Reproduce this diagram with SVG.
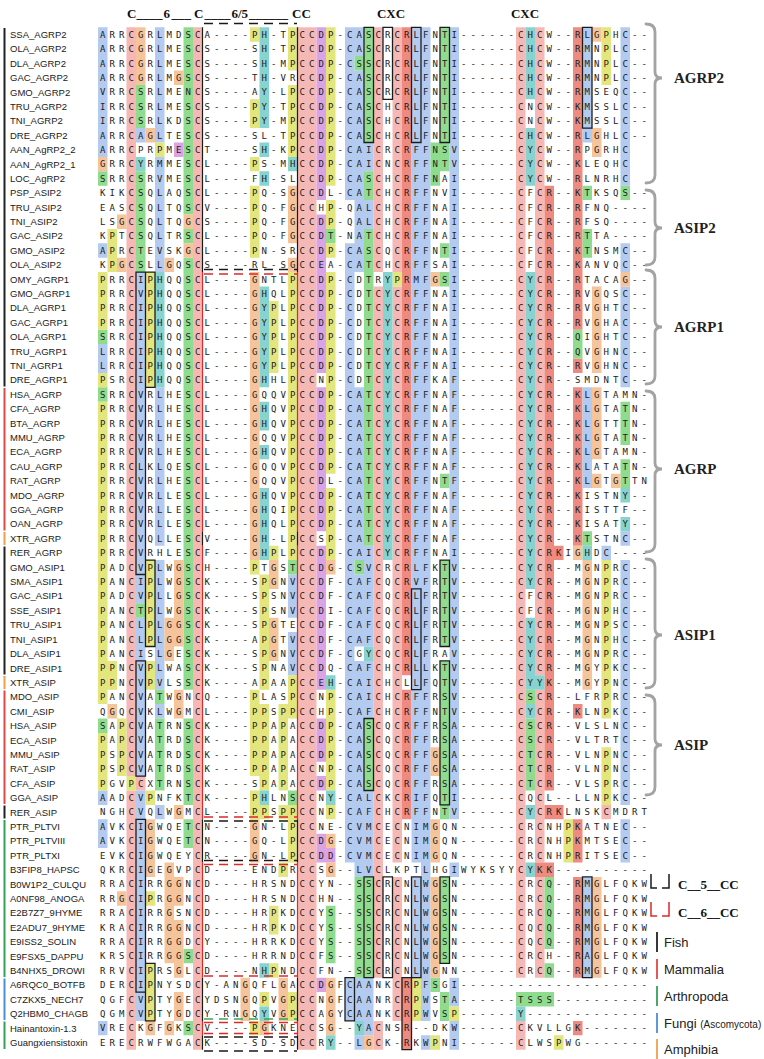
<svg xmlns="http://www.w3.org/2000/svg" width="764" height="1059" viewBox="0 0 764 1059">
<defs><style>
.nm{font-family:"Liberation Sans",Arial,sans-serif;font-size:9.5px;fill:#1a1a1a}
.sq{font-family:"DejaVu Sans Mono",monospace;font-size:9px;letter-spacing:4.08px;fill:#222}
.hd{font-family:"Liberation Serif",serif;font-weight:bold;font-size:13px;fill:#111}
.lb{font-family:"Liberation Serif",serif;font-weight:bold;font-size:15px;fill:#222}
.lg{font-family:"Liberation Sans",Arial,sans-serif;font-size:13px;fill:#222}
.br{fill:none;stroke:#a3a3a3;stroke-width:2.8;stroke-linecap:round}
.c{fill:#f5b8b5}.r{fill:#ef8a80}.b{fill:#b3cbf0}.g{fill:#8fdc8f}.p{fill:#dba3e3}.o{fill:#f6c49a}.y{fill:#e2e67c}.t{fill:#86d3cf}
.bx{fill:none;stroke:#1c1c1c;stroke-width:1.3px;vector-effect:non-scaling-stroke}
.vk{fill:none;stroke:#1a1a1a;stroke-width:1.2}
.vr{fill:none;stroke:#e0282a;stroke-width:1.2}
.dk{fill:none;stroke:#1a1a1a;stroke-width:1.6;stroke-dasharray:9 6}
.dr{fill:none;stroke:#e0282a;stroke-width:1.6;stroke-dasharray:9 6}
.dg{fill:none;stroke:#3aa855;stroke-width:1.6;stroke-dasharray:9 6}
</style></defs>
<rect width="764" height="1059" fill="#fff"/>
<g id="cells" transform="translate(98 27.3) scale(9.5 14.4)">
<path class="c" d="M3 0h1v52h-1zM3 53h1v18h-1zM4 52h1v1h-1zM10 0h1v71h-1zM21 0h2v71h-2zM29 0h1v17h-1zM29 18h1v48h-1zM29 69h1v2h-1zM31 0h1v17h-1zM31 18h1v40h-1zM31 59h1v10h-1zM44 0h1v66h-1zM44 69h1v2h-1zM46 0h1v45h-1zM46 46h1v12h-1zM46 59h1v7h-1zM53 54h1v1h-1z"/>
<path class="r" d="M32 0h1v45h-1zM32 46h1v9h-1zM32 66h1v5h-1zM46 58h1v1h-1zM47 11h1v42h-1zM47 54h1v1h-1zM47 58h1v1h-1zM48 36h1v1h-1zM48 54h1v1h-1zM50 0h1v21h-1zM50 23h1v1h-1zM50 25h1v11h-1zM50 47h1v1h-1zM50 55h1v3h-1zM50 59h1v7h-1zM50 69h1v1h-1z"/>
<path class="b" d="M0 0h1v9h-1zM0 15h1v1h-1zM0 22h1v2h-1zM0 53h1v1h-1zM0 55h1v2h-1zM0 69h1v1h-1zM4 7h1v1h-1zM4 17h1v23h-1zM4 41h1v11h-1zM4 53h1v16h-1zM6 0h1v8h-1zM6 9h1v8h-1zM6 25h1v11h-1zM6 37h1v9h-1zM6 47h1v1h-1zM6 54h1v1h-1zM20 38h1v3h-1zM20 42h1v3h-1zM26 0h1v12h-1zM26 15h1v43h-1zM26 66h1v3h-1zM27 0h1v2h-1zM27 3h1v14h-1zM27 25h1v12h-1zM27 38h1v5h-1zM27 44h1v15h-1zM27 66h1v3h-1zM27 70h1v1h-1zM28 8h1v2h-1zM28 12h1v2h-1zM28 36h1v7h-1zM28 44h1v4h-1zM28 53h1v6h-1zM28 66h1v4h-1zM33 0h1v58h-1zM33 59h1v7h-1zM34 0h1v69h-1zM34 70h1v1h-1zM37 0h1v55h-1zM37 58h1v1h-1zM37 66h1v2h-1zM37 69h1v2h-1zM51 0h1v8h-1zM51 25h1v7h-1zM51 59h1v7h-1zM53 36h1v1h-1zM55 0h1v11h-1zM55 15h1v2h-1zM55 18h1v7h-1zM55 35h1v1h-1zM55 37h1v17h-1zM55 55h1v3h-1z"/>
<path class="g" d="M0 10h1v1h-1zM0 21h1v1h-1zM0 25h1v1h-1zM0 48h1v1h-1zM4 4h1v3h-1zM4 10h1v7h-1zM4 40h1v1h-1zM6 46h1v1h-1zM6 48h1v5h-1zM9 0h1v13h-1zM9 14h1v1h-1zM9 16h1v30h-1zM9 48h1v6h-1zM9 55h1v2h-1zM9 64h1v1h-1zM9 69h1v1h-1zM20 37h1v1h-1zM20 53h1v1h-1zM24 14h1v1h-1zM24 61h1v4h-1zM27 2h1v1h-1zM27 37h1v1h-1zM27 59h1v7h-1zM28 0h1v8h-1zM28 10h1v2h-1zM28 14h1v22h-1zM28 48h1v5h-1zM28 59h1v7h-1zM35 8h1v3h-1zM35 66h1v1h-1zM36 0h1v10h-1zM36 15h1v1h-1zM36 17h1v1h-1zM36 31h1v1h-1zM36 37h1v6h-1zM36 44h1v11h-1zM36 59h1v6h-1zM36 67h1v2h-1zM44 67h4v1h-4zM45 46h1v1h-1zM45 48h1v5h-1zM47 59h1v5h-1zM47 65h1v1h-1zM50 21h1v2h-1zM51 11h1v1h-1zM51 14h1v2h-1zM51 35h1v1h-1zM55 11h1v1h-1zM55 26h1v3h-1zM55 30h1v2h-1z"/>
<path class="p" d="M8 8h1v1h-1zM23 0h1v12h-1zM23 13h1v11h-1zM23 25h1v10h-1zM23 36h1v10h-1zM23 48h1v3h-1zM23 52h1v1h-1zM23 56h1v2h-1zM23 66h1v1h-1zM24 57h1v1h-1z"/>
<path class="o" d="M0 9h1v1h-1zM1 47h1v1h-1zM2 13h1v1h-1zM2 16h1v1h-1zM2 60h1v1h-1zM4 0h1v4h-1zM5 7h1v1h-1zM5 55h1v4h-1zM5 69h1v1h-1zM7 16h1v1h-1zM7 41h1v3h-1zM7 58h1v7h-1zM7 69h1v1h-1zM8 3h1v1h-1zM8 37h1v6h-1zM8 46h1v2h-1zM8 54h1v1h-1zM8 59h1v2h-1zM8 62h1v4h-1zM8 67h1v2h-1zM9 13h1v1h-1zM9 15h1v1h-1zM15 66h1v3h-1zM16 17h1v20h-1zM16 55h1v3h-1zM17 69h1v1h-1zM18 37h1v2h-1zM18 41h1v3h-1zM19 66h1v3h-1zM20 11h1v4h-1zM20 16h1v1h-1zM24 37h1v1h-1zM24 56h1v1h-1zM24 58h1v1h-1zM24 66h1v4h-1zM28 70h1v1h-1zM35 17h1v1h-1zM35 50h1v2h-1zM35 55h1v3h-1zM35 59h1v7h-1zM50 36h1v1h-1zM51 37h1v9h-1zM52 0h1v1h-1zM52 7h1v2h-1zM52 18h1v6h-1zM52 25h1v5h-1zM52 31h1v1h-1zM52 59h1v7h-1zM54 31h1v1h-1zM55 17h1v1h-1z"/>
<path class="y" d="M0 17h1v4h-1zM0 24h1v1h-1zM0 26h1v21h-1zM0 49h1v4h-1zM1 14h1v3h-1zM1 44h1v2h-1zM2 48h1v4h-1zM3 52h1v1h-1zM5 17h1v8h-1zM5 37h1v6h-1zM5 44h1v2h-1zM5 53h1v1h-1zM5 60h1v1h-1zM5 65h1v4h-1zM6 8h1v1h-1zM16 0h1v1h-1zM16 5h1v2h-1zM16 9h1v1h-1zM16 11h1v5h-1zM16 37h1v1h-1zM16 46h1v6h-1zM16 53h1v2h-1zM16 69h1v1h-1zM17 38h1v8h-1zM17 47h1v6h-1zM17 54h1v1h-1zM17 67h1v1h-1zM18 19h1v5h-1zM18 36h1v1h-1zM18 61h1v2h-1zM18 65h1v1h-1zM19 47h1v6h-1zM19 54h1v1h-1zM19 58h1v1h-1zM20 0h1v3h-1zM20 4h1v5h-1zM20 17h1v20h-1zM20 45h1v3h-1zM20 54h1v4h-1zM20 67h1v2h-1zM24 0h1v11h-1zM24 12h1v2h-1zM24 15h1v1h-1zM24 17h1v14h-1zM24 32h1v5h-1zM24 46h1v7h-1zM24 54h1v1h-1zM31 17h1v1h-1zM33 66h1v3h-1zM35 70h1v1h-1zM37 68h1v1h-1zM48 70h1v1h-1zM49 55h1v3h-1zM53 0h1v4h-1zM53 37h1v11h-1zM53 50h1v4h-1z"/>
<path class="t" d="M4 9h1v1h-1zM6 17h1v8h-1zM17 0h1v7h-1zM17 8h1v1h-1zM17 10h1v1h-1zM17 18h1v7h-1zM17 26h1v2h-1zM17 29h1v1h-1zM17 32h1v5h-1zM17 53h1v1h-1zM17 65h1v1h-1zM17 68h1v1h-1zM20 9h1v1h-1zM24 45h1v1h-1zM24 53h1v1h-1zM24 70h1v1h-1zM27 69h1v1h-1zM28 43h1v1h-1zM30 17h1v20h-1zM44 68h1v1h-1zM45 0h1v5h-1zM45 7h1v4h-1zM45 17h1v22h-1zM45 41h1v5h-1zM45 47h1v1h-1zM45 54h1v1h-1zM45 58h1v1h-1zM46 45h1v1h-1zM51 36h1v1h-1zM55 32h1v1h-1zM55 34h1v1h-1z"/>
<path class="bx" d="M28 0h1v8h-1zM30 0h1v5h-1zM33 0h1v8h-1zM36 0h1v8h-1zM51 0h1v7h-1zM4 17h1v21h-1zM5 17h1v8h-1zM5 37h1v6h-1zM33 39h1v7h-1zM36 37h1v6h-1zM4 44h1v8h-1zM36 44h1v10h-1zM28 48h1v5h-1zM4 55h1v12h-1zM28 59h1v7h-1zM30 59h1v7h-1zM33 59h1v7h-1zM36 59h1v6h-1zM51 59h1v7h-1zM5 65h1v4h-1zM26 66h1v3h-1zM32 66h1v5h-1z"/>
</g>
<g id="brackets">
<path class="vk" d="M202.5 27.3V272.1M297.5 27.3V272.1M202.5 531.3V545.7M297.5 531.3V545.7M202.5 819.3V862.5M297.5 819.3V862.5M202.5 977.7V1020.9M297.5 977.7V1020.9M202.5 1035.3V1049.7M297.5 1035.3V1049.7"/>
<path class="vr" d="M202.5 272.1V531.3M297.5 272.1V531.3M202.5 545.7V819.3M297.5 545.7V819.3M202.5 862.5V977.7M297.5 862.5V977.7M202.5 1020.9V1035.3M297.5 1020.9V1035.3"/>
<path class="dk" d="M204 23.5H297M204 269.5H297M204 821H297M204 860.5H297M204 1037H297M204 1051H297"/>
<path class="dr" d="M204 274H297M204 817H297M204 864.5H297M204 976H297M204 1022.5H297M204 1033.5H297"/>
<path class="dg" d="M204 1019H297"/>
</g>
<g id="taxa" stroke-width="2" fill="none">
<path stroke="#222" d="M4.5 28V386.5M4.5 546.5V674.5M4.5 805.5V818.5"/>
<path stroke="#e04848" d="M4.5 388V530.5M4.5 690.5V804"/>
<path stroke="#f0a04a" d="M4.5 532V545M4.5 676V689"/>
<path stroke="#35a05a" d="M4.5 820V977M4.5 1021.5V1049"/>
<path stroke="#4a90d0" d="M4.5 978.5V1020"/>
</g>
<g id="header">
<text class="hd" y="18"><tspan x="127">C</tspan><tspan x="136.5">____</tspan><tspan x="163.5">6</tspan><tspan x="171.5">___</tspan><tspan x="194">C</tspan><tspan x="204.5">____</tspan><tspan x="231.5">6/5</tspan><tspan x="249">______</tspan><tspan x="292">CC</tspan></text>
<text class="hd" x="391" y="18" text-anchor="middle">CXC</text>
<text class="hd" x="525" y="18" text-anchor="middle">CXC</text>
</g>
<g id="names"><text class="nm" y="37.9">
<tspan x="10" dy="0">SSA_AGRP2</tspan><tspan x="10" dy="14.4">OLA_AGRP2</tspan><tspan x="10" dy="14.4">DLA_AGRP2</tspan><tspan x="10" dy="14.4">GAC_AGRP2</tspan><tspan x="10" dy="14.4">GMO_AGRP2</tspan><tspan x="10" dy="14.4">TRU_AGRP2</tspan><tspan x="10" dy="14.4">TNI_AGRP2</tspan><tspan x="10" dy="14.4">DRE_AGRP2</tspan><tspan x="10" dy="14.4">AAN_AgRP2_2</tspan><tspan x="10" dy="14.4">AAN_AgRP2_1</tspan><tspan x="10" dy="14.4">LOC_AgRP2</tspan><tspan x="10" dy="14.4">PSP_ASIP2</tspan><tspan x="10" dy="14.4">TRU_ASIP2</tspan><tspan x="10" dy="14.4">TNI_ASIP2</tspan><tspan x="10" dy="14.4">GAC_ASIP2</tspan><tspan x="10" dy="14.4">GMO_ASIP2</tspan><tspan x="10" dy="14.4">OLA_ASIP2</tspan><tspan x="10" dy="14.4">OMY_AGRP1</tspan><tspan x="10" dy="14.4">GMO_AGRP1</tspan><tspan x="10" dy="14.4">DLA_AGRP1</tspan><tspan x="10" dy="14.4">GAC_AGRP1</tspan><tspan x="10" dy="14.4">OLA_AGRP1</tspan><tspan x="10" dy="14.4">TRU_AGRP1</tspan><tspan x="10" dy="14.4">TNI_AGRP1</tspan><tspan x="10" dy="14.4">DRE_AGRP1</tspan><tspan x="10" dy="14.4">HSA_AGRP</tspan><tspan x="10" dy="14.4">CFA_AGRP</tspan><tspan x="10" dy="14.4">BTA_AGRP</tspan><tspan x="10" dy="14.4">MMU_AGRP</tspan><tspan x="10" dy="14.4">ECA_AGRP</tspan><tspan x="10" dy="14.4">CAU_AGRP</tspan><tspan x="10" dy="14.4">RAT_AGRP</tspan><tspan x="10" dy="14.4">MDO_AGRP</tspan><tspan x="10" dy="14.4">GGA_AGRP</tspan><tspan x="10" dy="14.4">OAN_AGRP</tspan><tspan x="10" dy="14.4">XTR_AGRP</tspan><tspan x="10" dy="14.4">RER_AGRP</tspan><tspan x="10" dy="14.4">GMO_ASIP1</tspan><tspan x="10" dy="14.4">SMA_ASIP1</tspan><tspan x="10" dy="14.4">GAC_ASIP1</tspan><tspan x="10" dy="14.4">SSE_ASIP1</tspan><tspan x="10" dy="14.4">TRU_ASIP1</tspan><tspan x="10" dy="14.4">TNI_ASIP1</tspan><tspan x="10" dy="14.4">DLA_ASIP1</tspan><tspan x="10" dy="14.4">DRE_ASIP1</tspan><tspan x="10" dy="14.4">XTR_ASIP</tspan><tspan x="10" dy="14.4">MDO_ASIP</tspan><tspan x="10" dy="14.4">CMI_ASIP</tspan><tspan x="10" dy="14.4">HSA_ASIP</tspan><tspan x="10" dy="14.4">ECA_ASIP</tspan><tspan x="10" dy="14.4">MMU_ASIP</tspan><tspan x="10" dy="14.4">RAT_ASIP</tspan><tspan x="10" dy="14.4">CFA_ASIP</tspan><tspan x="10" dy="14.4">GGA_ASIP</tspan><tspan x="10" dy="14.4">RER_ASIP</tspan><tspan x="10" dy="14.4">PTR_PLTVI</tspan><tspan x="10" dy="14.4">PTR_PLTVIII</tspan><tspan x="10" dy="14.4">PTR_PLTXI</tspan><tspan x="10" dy="14.4">B3FIP8_HAPSC</tspan><tspan x="10" dy="14.4">B0W1P2_CULQU</tspan><tspan x="10" dy="14.4">A0NF98_ANOGA</tspan><tspan x="10" dy="14.4">E2B7Z7_9HYME</tspan><tspan x="10" dy="14.4">E2ADU7_9HYME</tspan><tspan x="10" dy="14.4">E9ISS2_SOLIN</tspan><tspan x="10" dy="14.4">E9FSX5_DAPPU</tspan><tspan x="10" dy="14.4">B4NHX5_DROWI</tspan><tspan x="10" dy="14.4">A6RQC0_BOTFB</tspan><tspan x="10" dy="14.4">C7ZKX5_NECH7</tspan><tspan x="10" dy="14.4">Q2HBM0_CHAGB</tspan><tspan x="10" dy="14.4">Hainantoxin-1.3</tspan><tspan x="10" dy="14.4">Guangxiensistoxin</tspan>
</text></g>
<g id="sequences"><text class="sq" y="37.8">
<tspan x="100" dy="0">ARRCGRLMDSCA----PH-TPCCDP-CASCRCRLFNTI------CHCW--RLGPHC--</tspan>
<tspan x="100" dy="14.4">ARRCGRLMESCS----SH-TPCCDP-CASCRCRLFNTI------CHCW--RMNPLC--</tspan>
<tspan x="100" dy="14.4">ARRCGRLMESCS----SH-MPCCDP-CSSCRCRLFNTI------CHCW--RMNPLC--</tspan>
<tspan x="100" dy="14.4">ARRCGRLMGSCS----TH-VRCCDP-CASCRCRLFNTI------CHCW--RMNPLC--</tspan>
<tspan x="100" dy="14.4">VRRCSRLMENCS----AY-LPCCDP-CASCRCRLFNTI------CHCW--RMSEQC--</tspan>
<tspan x="100" dy="14.4">IRRCSRLMESCS----PY-TPCCDP-CASCHCRLFNTI------CNCW--KMSSLC--</tspan>
<tspan x="100" dy="14.4">IRRCSRLKDSCS----PY-MPCCDP-CASCHCRLFNTI------CNCW--KMSSLC--</tspan>
<tspan x="100" dy="14.4">ARRCAGLTESCS----SL-TPCCDP-CASCHCRLFNTI------CHCW--RLGHLC--</tspan>
<tspan x="100" dy="14.4">ARRCPRPMESCT----SH-KPCCDP-CAICRCRFFNSV------CYCW--RPGRHC</tspan>
<tspan x="100" dy="14.4">GRRCYRMMESCL----PS-MHCCDP-CAICNCRFFNTV------CYCW--KLEQHC</tspan>
<tspan x="100" dy="14.4">SRRCSRVMESCL----FH-SLCCDP-CASCHCRFFNAI------CYCW--RLNRHC</tspan>
<tspan x="100" dy="14.4">KIKCSQLAQSCL----PQ-SGCCDL-CATCHCRFFNVI------CFCR--KTKSQS--</tspan>
<tspan x="100" dy="14.4">EASCSQLTQSCV----PQ-FGCCHP-QALCHCRFFNAI------CFCR--RFNQ----</tspan>
<tspan x="100" dy="14.4">LSGCSQLTQGCS----PQ-FGCCDP-QALCHCRFFNAI------CFCR--RFSQ----</tspan>
<tspan x="100" dy="14.4">KPTCSQLTRSCL----PQ-FGCCDT-NATCHCRFFNAI------CFCR--RTTA----</tspan>
<tspan x="100" dy="14.4">APRCTEVSKGCL----PN-SRCCDP-CASCQCRFFNTI------CFCR--KTNSMC--</tspan>
<tspan x="100" dy="14.4">KPGCSLLGQSCS----RL-SGCCEA-CATCHCRFFSAI------CFCR--KANVQC--</tspan>
<tspan x="100" dy="14.4">PRRCIPHQQSCL----GNTLPCCDP-CDTRYPRMFGSI------CYCR--RTACAG--</tspan>
<tspan x="100" dy="14.4">PRRCVPHQQSCL----GHQLPCCDP-CDTCYCRFFNAI------CYCR--RVGQSC--</tspan>
<tspan x="100" dy="14.4">PRRCIPHQQSCL----GYPLPCCDP-CDTCYCRFFNAI------CYCR--RVGHTC--</tspan>
<tspan x="100" dy="14.4">PRRCIPHQQSCL----GYPLPCCDP-CDTCYCRFFNAI------CYCR--RVGHAC--</tspan>
<tspan x="100" dy="14.4">SRRCIPHQQSCL----GYPLPCCDP-CDTCYCRFFNAI------CYCR--QIGHTC--</tspan>
<tspan x="100" dy="14.4">LRRCIPHQQSCL----GYPLPCCDP-CDTCYCRFFNAI------CYCR--QVGHNC--</tspan>
<tspan x="100" dy="14.4">LRRCIPHQQSCL----GYPLPCCDP-CDTCYCRFFNAI------CYCR--RVGHNC--</tspan>
<tspan x="100" dy="14.4">PSRCIPHQQSCL----GHHLPCCNP-CDTCYCRFFKAF------CYCR--SMDNTC--</tspan>
<tspan x="100" dy="14.4">SRRCVRLHESCL----GQQVPCCDP-CATCYCRFFNAF------CYCR--KLGTAMN-</tspan>
<tspan x="100" dy="14.4">PRRCVRLHESCL----GHQVPCCDP-CATCYCRFFNAF------CYCR--KLGTATN-</tspan>
<tspan x="100" dy="14.4">PRRCVRLHESCL----GHQVPCCDP-CATCYCRFFNAF------CYCR--KLGTTTN-</tspan>
<tspan x="100" dy="14.4">PRRCVRLHESCL----GQQVPCCDP-CATCYCRFFNAF------CYCR--KLGTATN-</tspan>
<tspan x="100" dy="14.4">PRRCVRLHESCL----GHQVPCCDP-CATCYCRFFNAF------CYCR--KLGTAMN-</tspan>
<tspan x="100" dy="14.4">PRRCLKLQESCL----GQQVPCCDP-CATCYCRFFNAF------CYCR--KLATATN-</tspan>
<tspan x="100" dy="14.4">PRRCVRLHESCL----GQQVPCCDL-CATCYCRFFNTF------CYCR--KLGTGTTN</tspan>
<tspan x="100" dy="14.4">PRRCVRLLESCL----GHQVPCCDP-CATCYCRFFNAF------CYCR--KISTNY--</tspan>
<tspan x="100" dy="14.4">PRRCVRLLESCL----GHQIPCCDP-CATCYCRFFNAF------CYCR--KISTTF--</tspan>
<tspan x="100" dy="14.4">PRRCVRLLESCL----GHQLPCCDP-CATCYCRFFNAF------CYCR--KISATY--</tspan>
<tspan x="100" dy="14.4">PRRCVQLLESCV----GH-LPCCSP-CATCYCRFFNAF------CYCR--KTSTNC--</tspan>
<tspan x="100" dy="14.4">PRRCVRHLESCF----GHPLPCCDP-CAICYCRFFNAI------CYCRKIGHDC----</tspan>
<tspan x="100" dy="14.4">PADCVPLWGSCH----PTGSTCCDG-CSVCRCRLFKTV------CYCR--MGNPRC--</tspan>
<tspan x="100" dy="14.4">PANCIPLWGSCK----SPGNVCCDF-CAFCQCRVFRTV------CYCR--MGNPRC--</tspan>
<tspan x="100" dy="14.4">PADCVPLLGSCK----SPSNVCCDF-CAFCQCRLFRTV------CFCR--MGNPRC--</tspan>
<tspan x="100" dy="14.4">PANCTPLWGSCK----SPSNVCCDI-CAFCQCRLFRTV------CFCR--MGNPHC--</tspan>
<tspan x="100" dy="14.4">PANCLPLGGSCK----SPGTECCDF-CAFCQCRLFRTV------CYCR--MGNPSC--</tspan>
<tspan x="100" dy="14.4">PANCLPLGGSCK----APGTVCCDF-CAFCQCRLFRTV------CYCR--MGNPHC--</tspan>
<tspan x="100" dy="14.4">PANCISLGESCK----SPGNVCCDF-CGYCQCRLFRAV------CYCR--MGNPRC--</tspan>
<tspan x="100" dy="14.4">PPNCVPLWASCK----SPNAVCCDQ-CAFCHCRLLKTV------CYCR--MGYPKC--</tspan>
<tspan x="100" dy="14.4">PPNCVPVLSSCK----APAAPCCEH-CAICHCLLFQTV------CYYK--MGYPNC--</tspan>
<tspan x="100" dy="14.4">PANCVATWGNCQ----PLASPCCNP-CAICHCRFFRSV------CSCR--LFRPRC--</tspan>
<tspan x="100" dy="14.4">QGQCVKLWGMCL----PPSPPCCHP-CAFCHCRFFNTV------CYCR--KLNPKC--</tspan>
<tspan x="100" dy="14.4">SAPCVATRNSCK----PPAPACCDP-CASCQCRFFRSA------CSCR--VLSLNC--</tspan>
<tspan x="100" dy="14.4">PAPCVATRDSCK----PPAPACCDP-CASCQCRFFRSA------CSCR--VLTRTC--</tspan>
<tspan x="100" dy="14.4">PSPCVATRDSCK----PPAPACCDP-CASCQCRFFGSA------CTCR--VLNPNC--</tspan>
<tspan x="100" dy="14.4">PSPCVATRDSCK----PPAPACCNP-CASCQCRFFGSA------CTCR--VLNPNC--</tspan>
<tspan x="100" dy="14.4">PGVPCXTRNSCK----SPAPACCDP-CASCQCRFFRSA------CTCR--VLSPRC--</tspan>
<tspan x="100" dy="14.4">AADCVPNFKTCK----PHLNSCCNY-CALCKCRIFQTI------CQCL--LLNPKC--</tspan>
<tspan x="100" dy="14.4">NGHCVQLWGMCL----PPSPPCCNP-CAFCHCRFFNTV------CYCRKLNSKCMDRT</tspan>
<tspan x="100" dy="14.4">AVKCIGWQETCN----GN-LPCCNE-CVMCECNIMGQN------CRCNHPKATNEC--</tspan>
<tspan x="100" dy="14.4">AVKCIGWQETCN----GQ-LPCCDG-CVMCECNIMGQN------CRCNHPKMTSEC--</tspan>
<tspan x="100" dy="14.4">EVKCIGWQEYCR----GN-LPCCDD-CVMCECNIMGQN------CRCNHPRITSEC--</tspan>
<tspan x="100" dy="14.4">QKRCIGEGVPCD----ENDPRCCSG--LVCLKPTLHGIWYKSYYCYKK----------</tspan>
<tspan x="100" dy="14.4">RRACIRRGGNCD----HRSNDCCYN--SSCRCNLWGSN------CRCQ--RMGLFQKW</tspan>
<tspan x="100" dy="14.4">RRGCIPRGGNCD----HRSNDCCHN--SSCRCNLWGSN------CRCQ--RMGLFQKW</tspan>
<tspan x="100" dy="14.4">RRACIRRGSNCD----HRPKDCCYS--SSCRCNLWGSN------CRCQ--RMGLFQKW</tspan>
<tspan x="100" dy="14.4">KRACIRRGGNCD----HRPKDCCYS--SSCRCNLWGSN------CQCQ--RMGLFQKW</tspan>
<tspan x="100" dy="14.4">RRACIRRGGDCY----HRRKDCCYS--SSCRCNLWGSN------CQCQ--RMGLFQKW</tspan>
<tspan x="100" dy="14.4">KRSCIRRGGSCD----HRRNDCCFS--SSCRCNLWGSN------CRCH--RAGLFQKW</tspan>
<tspan x="100" dy="14.4">RRVCIPRSGLCD----NHPNDCCFN--SSCRCNLWGNN------CRCQ--RMGLFQKW</tspan>
<tspan x="100" dy="14.4">DERCIPNYSDCY-ANGQFLGACCDGFCAANKCRPFSGI--------------------</tspan>
<tspan x="100" dy="14.4">QGFCVPTYGECYDSNGQPVGPCCNGFCAANRCRPWSTA------TSSS----------</tspan>
<tspan x="100" dy="14.4">QGMCVPTYGDCY-RNGQYVGPCCAGYCAANKCRPWVSP------Y-------------</tspan>
<tspan x="100" dy="14.4">VRECKGFGKSCV----PGKNECCSG--YACNSR--DKW------CKVLLGK-------</tspan>
<tspan x="100" dy="14.4">ERECRWFWGACK----SD-SDCCRY--LGCK-RKWPNI------CLWSPWG-------</tspan>
</text></g>
<g id="groups">
<path class="br" d="M646 24Q655 24 655 32V72Q655 78 662 78Q655 78 655 84V175Q655 183 646 183"/>
<path class="br" d="M646 190Q655 190 655 198V222Q655 228 662 228Q655 228 655 234V257Q655 265 646 265"/>
<path class="br" d="M646 270Q655 270 655 278V321Q655 327 662 327Q655 327 655 333V376Q655 384 646 384"/>
<path class="br" d="M646 391Q655 391 655 399V463Q655 469 662 469Q655 469 655 475V544Q655 552 646 552"/>
<path class="br" d="M646 559Q655 559 655 567V629Q655 635 662 635Q655 635 655 641V680Q655 688 646 688"/>
<path class="br" d="M646 695Q655 695 655 703V739Q655 745 662 745Q655 745 655 751V787Q655 795 646 795"/>
<text class="lb" x="674" y="83">AGRP2</text>
<text class="lb" x="674" y="233">ASIP2</text>
<text class="lb" x="674" y="332">AGRP1</text>
<text class="lb" x="674" y="474">AGRP</text>
<text class="lb" x="674" y="640">ASIP1</text>
<text class="lb" x="674" y="750">ASIP</text>
</g>
<g id="legend">
<path d="M651 874V888H657M662 888H669V874" fill="none" stroke="#1a1a1a" stroke-width="1.5"/>
<text class="hd" x="678" y="889" font-size="14">C__5__CC</text>
<path d="M651 902V916H657M662 916H669V902" fill="none" stroke="#e0282a" stroke-width="1.5"/>
<text class="hd" x="678" y="917" font-size="14">C__6__CC</text>
<path d="M657 932V952" stroke="#222" stroke-width="1.8"/>
<text class="lg" x="664" y="947">Fish</text>
<path d="M657 959V979" stroke="#e04848" stroke-width="1.8"/>
<text class="lg" x="664" y="974">Mammalia</text>
<path d="M657 986V1006" stroke="#35a05a" stroke-width="1.8"/>
<text class="lg" x="664" y="1001">Arthropoda</text>
<path d="M657 1013V1033" stroke="#4a90d0" stroke-width="1.8"/>
<text class="lg" x="664" y="1028">Fungi <tspan font-size="10">(Ascomycota)</tspan></text>
<path d="M657 1039V1059" stroke="#f0a04a" stroke-width="1.8"/>
<text class="lg" x="664" y="1054">Amphibia</text>
</g>
</svg>
